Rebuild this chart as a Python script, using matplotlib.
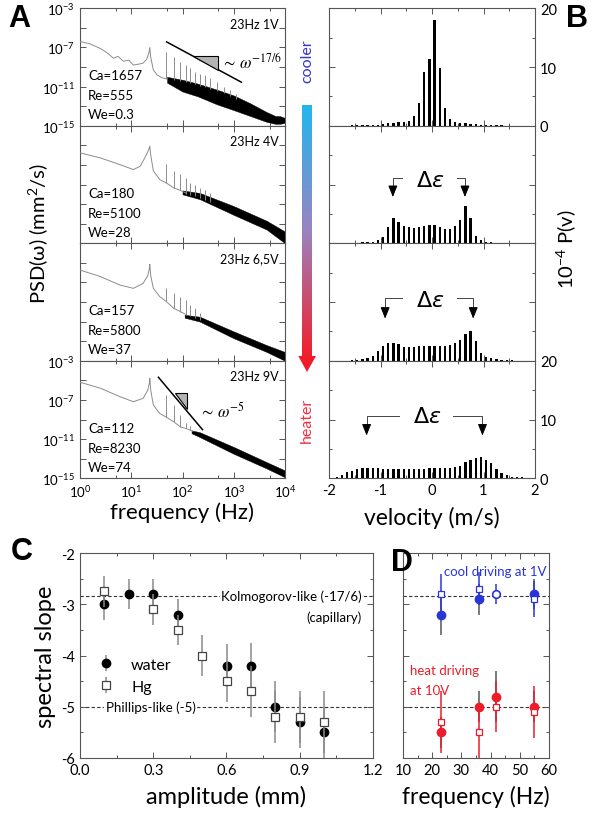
import matplotlib
matplotlib.use('Agg')
import matplotlib.pyplot as plt
import matplotlib.ticker as mt
from matplotlib.patches import Polygon
from matplotlib.colors import LinearSegmentedColormap
import numpy as np

plt.rcParams['font.family'] = ['Lato', 'DejaVu Sans']
plt.rcParams['mathtext.fontset'] = 'custom'
plt.rcParams['mathtext.rm'] = 'Lato'
plt.rcParams['mathtext.it'] = 'Lato:italic'
plt.rcParams['mathtext.bf'] = 'Lato:bold'

# ---------------- panel A : PSD spectra (log10 of PSD)
drive_labels = ['23Hz 1V', '23Hz 4V', '23Hz 6,5V', '23Hz 9V']
ca_vals = ['1657', '180', '157', '112']
re_vals = ['555', '5100', '5800', '8230']
we_vals = ['0.3', '28', '37', '74']

line_f = [
    [1, 1.5, 2.5, 3.5, 4.5, 5.5, 7, 9, 11, 14, 17, 20, 22, 23, 24, 27, 32, 40, 50],
    [1, 2.5, 6, 11, 15, 20, 22, 23, 24, 27, 36, 47, 68, 91, 120],
    [1, 2.5, 6, 11, 17, 21, 22.5, 23, 24, 27, 36, 47, 68, 91, 120],
    [1, 2.5, 6, 11, 17, 21, 22.5, 23, 24, 27, 36, 47, 68, 91, 115, 160],
]
line_p = [
    [-6.4, -6.6, -7.1, -7.6, -8.1, -7.9, -8.4, -8.3, -8.8, -8.7, -8.6, -8.2, -7.6, -7.0, -8.0, -9.3, -9.8, -10.1, -10.2],
    [-5.76, -6.28, -6.96, -7.47, -7.13, -5.9, -5.4, -5.08, -6.0, -7.6, -8.5, -8.8, -9.35, -9.6, -9.9],
    [-5.73, -6.4, -7.26, -7.6, -7.1, -6.3, -5.6, -5.15, -6.3, -7.6, -8.45, -8.9, -9.65, -9.98, -10.3],
    [-5.19, -5.8, -6.66, -7.18, -6.84, -6.0, -5.3, -4.78, -6.0, -7.52, -8.38, -8.72, -9.24, -9.75, -9.9, -10.2],
]
spike_f = [
    [47, 68, 91, 115, 141, 174, 219, 275, 347, 468, 631, 851, 1122],
    [47, 68, 91, 115, 141, 174, 219, 275, 347],
    [47, 68, 91, 115, 141, 174, 219],
    [47, 68, 91, 115, 141],
]
spike_top = [
    [-7.45, -7.95, -8.45, -8.8, -9.1, -9.5, -9.7, -9.85, -10.1, -10.5, -11.0, -11.3, -11.8],
    [-6.9, -7.6, -7.9, -8.3, -8.8, -9.0, -9.35, -9.6, -9.9],
    [-7.6, -8.1, -8.45, -8.8, -9.3, -9.65, -10.15],
    [-6.5, -7.5, -8.56, -9.4, -9.7],
]
spike_base = [
    [-10.2, -10.3, -10.4, -10.5, -10.6, -10.7, -10.9, -11.0, -11.2, -11.4, -11.7, -12.0, -12.3],
    [-8.8, -9.35, -9.6, -9.96, -10.1, -10.2, -10.4, -10.6, -10.8],
    [-8.9, -9.65, -9.98, -10.2, -10.4, -10.6, -10.8],
    [-8.72, -9.24, -9.75, -9.9, -10.1],
]
band_f = [
    [50, 100, 200, 465, 1000, 2100, 4400, 6500, 7900, 10000],
    [100, 219, 1000, 4400, 10000],
    [110, 219, 1000, 4400, 10000],
    [150, 219, 1000, 4400, 10000],
]
band_hi = [
    [-10.0, -10.3, -10.7, -11.3, -11.9, -12.7, -13.6, -14.0, -14.0, -14.2],
    [-9.6, -9.86, -11.2, -12.7, -13.8],
    [-10.3, -10.5, -12.0, -13.4, -14.1],
    [-10.1, -10.3, -11.8, -13.35, -14.2],
]
band_lo = [
    [-10.6, -11.5, -12.0, -12.8, -13.4, -14.0, -14.6, -14.8, -14.8, -14.7],
    [-10.0, -10.5, -12.1, -13.6, -15.0],
    [-10.6, -11.0, -12.7, -14.1, -15.0],
    [-10.4, -10.8, -12.5, -14.0, -14.9],
]

# ---------------- panel B : velocity histograms (10^-4 P(v))
vel = np.linspace(-1.95, 1.95, 40)
hist = [
    [0, 0, 0.05, 0.05, 0.1, 0.1, 0.1, 0.1, 0.15, 0.2,
     0.3, 0.4, 0.5, 0.6, 0.7, 0.9, 1.6, 3.8, 9.2, 11.3,
     18.0, 9.8, 3.1, 1.2, 0.7, 0.5, 0.4, 0.3, 0.25, 0.2,
     0.15, 0.1, 0.1, 0.1, 0.05, 0.05, 0.05, 0, 0, 0],
    [0, 0, 0.05, 0.05, 0.1, 0.1, 0.15, 0.2, 0.3, 0.55,
     1.1, 2.7, 4.3, 3.7, 3.0, 2.7, 2.6, 2.7, 3.0, 3.2,
     3.2, 2.7, 2.5, 2.5, 3.0, 4.0, 6.4, 4.3, 1.3, 0.6,
     0.3, 0.2, 0.1, 0.1, 0.05, 0.05, 0, 0, 0, 0],
    [0, 0, 0.05, 0.05, 0.1, 0.2, 0.3, 0.5, 0.85, 1.75,
     2.5, 3.1, 3.1, 2.8, 2.4, 2.4, 2.4, 2.5, 2.5, 2.6,
     2.6, 2.6, 2.6, 2.7, 3.0, 3.6, 4.5, 5.1, 3.3, 1.4,
     0.7, 0.4, 0.3, 0.2, 0.15, 0.1, 0.05, 0.05, 0, 0],
    [0.1, 0.2, 0.55, 1.0, 1.2, 1.5, 1.75, 1.75, 1.75, 1.7,
     1.6, 1.55, 1.55, 1.55, 1.55, 1.6, 1.6, 1.6, 1.65, 1.7,
     1.7, 1.7, 1.75, 1.75, 1.85, 2.05, 2.7, 3.2, 3.5, 3.6,
     3.2, 2.6, 1.6, 0.9, 0.5, 0.3, 0.2, 0.15, 0.1, 0.1],
]

# ---------------- panel C : spectral slope vs amplitude
amp_w = [0.1, 0.2, 0.3, 0.4, 0.6, 0.7, 0.8, 0.9, 1.0]
slope_w = [-3.0, -2.8, -2.8, -3.2, -4.2, -4.2, -5.0, -5.3, -5.5]
err_w = [0.3, 0.3, 0.3, 0.3, 0.42, 0.45, 0.5, 0.5, 0.5]
amp_hg = [0.1, 0.3, 0.4, 0.5, 0.6, 0.7, 0.8, 0.9, 1.0]
slope_hg = [-2.75, -3.1, -3.5, -4.0, -4.5, -4.7, -5.2, -5.2, -5.3]
err_hg = [0.3, 0.3, 0.3, 0.4, 0.4, 0.5, 0.5, 0.5, 0.6]

# ---------------- panel D : spectral slope vs driving frequency
cool_f = [23, 36, 55]
cool_circ = [-3.2, -2.9, -2.8]
cool_circ_err = [0.4, 0.3, 0.3]
cool_sq = [-2.8, -2.7, -2.9]
cool_sq_err = [0.4, 0.32, 0.35]
cool_open_f = [42]
cool_open = [-2.8]
cool_open_err = [0.2]
heat_f = [23, 36, 42, 55]
heat_circ = [-5.5, -5.0, -4.8, -5.0]
heat_circ_err = [0.3, 0.3, 0.5, 0.3]
heat_sq = [-5.3, -5.5, -5.0, -5.1]
heat_sq_err = [0.6, 0.5, 0.5, 0.5]

W, H = 593, 820
fig = plt.figure(figsize=(W / 100, H / 100), dpi=100)
spine_c = '#555555'
blue = '#2a35d8'
red = '#ec1c2a'


def px_axes(x0, y0, x1, y1):
    return fig.add_axes([x0 / W, 1 - y1 / H, (x1 - x0) / W, (y1 - y0) / H])


def style(ax, lsize=10):
    for s in ax.spines.values():
        s.set_color(spine_c)
        s.set_linewidth(0.8)
    ax.tick_params(which='both', direction='in', top=True, right=True,
                   color=spine_c, labelsize=lsize, width=0.7)
    ax.tick_params(which='major', length=4)
    ax.tick_params(which='minor', length=2.5)


tops = np.linspace(9.3, 479.3, 5)

# ---- A
for i in range(4):
    ax = px_axes(80, tops[i], 285, tops[i + 1])
    ax.set_xscale('log')
    ax.set_yscale('log')
    ax.fill_between(band_f[i], 10.0 ** np.array(band_hi[i]), 10.0 ** np.array(band_lo[i]),
                    color='black', lw=0.3, zorder=2)
    ax.vlines(spike_f[i], 10.0 ** np.array(spike_base[i]), 10.0 ** np.array(spike_top[i]),
              color='#8c8c8c', lw=0.7, zorder=3)
    ax.plot(line_f[i], 10.0 ** np.array(line_p[i]), color='#8c8c8c', lw=0.7, zorder=3)
    ax.set_xlim(1, 1e4)
    ax.set_ylim(1e-15, 1e-3)
    ax.yaxis.set_major_locator(mt.FixedLocator([10.0 ** e for e in range(-15, -2, 2)]))
    ax.yaxis.set_minor_locator(mt.NullLocator())
    if i in (0, 3):
        ax.yaxis.set_major_formatter(mt.FuncFormatter(
            lambda v, p: r'$10^{%d}$' % round(np.log10(v)) if round(np.log10(v)) in (-3, -7, -11, -15) else ''))
    else:
        ax.yaxis.set_major_formatter(mt.NullFormatter())
    ax.xaxis.set_major_locator(mt.LogLocator(base=10, numticks=10))
    ax.xaxis.set_minor_locator(mt.LogLocator(base=10, subs=[5], numticks=10))
    ax.xaxis.set_minor_formatter(mt.NullFormatter())
    if i == 3:
        ax.xaxis.set_major_formatter(mt.LogFormatterMathtext())
    else:
        ax.xaxis.set_major_formatter(mt.NullFormatter())
    style(ax, 9.5)
    ax.text(0.97, 0.87, drive_labels[i], transform=ax.transAxes, ha='right', va='center', fontsize=9)
    ax.text(0.04, 0.43, 'Ca=' + ca_vals[i], transform=ax.transAxes, va='center', fontsize=9.5)
    ax.text(0.04, 0.26, 'Re=' + re_vals[i], transform=ax.transAxes, va='center', fontsize=9.5)
    ax.text(0.04, 0.10, 'We=' + we_vals[i], transform=ax.transAxes, va='center', fontsize=9.5)
    if i == 0:
        ax.plot([10 ** 1.69, 10 ** 3.15], [10 ** -6.43, 10 ** -10.55], color='black', lw=1.1, zorder=4)
        ax.add_patch(Polygon([[10 ** 2.21, 10 ** -7.85], [10 ** 2.70, 10 ** -7.85], [10 ** 2.70, 10 ** -9.28]],
                             closed=True, fc='#b4b4b4', ec='black', lw=0.8, zorder=4))
        ax.text(10 ** 2.76, 10 ** -8.4, r'$\sim\,\omega^{-17/6}$', fontsize=12, va='center',
                math_fontfamily='stix')
    if i == 3:
        ax.plot([10 ** 1.53, 10 ** 2.39], [10 ** -4.68, 10 ** -10.03], color='black', lw=1.1, zorder=4)
        ax.add_patch(Polygon([[10 ** 1.85, 10 ** -6.3], [10 ** 2.09, 10 ** -6.3], [10 ** 2.09, 10 ** -7.9]],
                             closed=True, fc='#b4b4b4', ec='black', lw=0.8, zorder=4))
        ax.text(10 ** 2.32, 10 ** -8.0, r'$\sim\,\omega^{-5}$', fontsize=12, va='center',
                math_fontfamily='stix')

fig.text(38 / W, 1 - 233 / H, 'PSD(ω) (mm$^2$/s)', rotation=90, ha='center', va='center', fontsize=14.5)
fig.text(182 / W, 1 - 513 / H, 'frequency (Hz)', ha='center', va='center', fontsize=16)

# ---- B
brackets = [None,
            (-0.76, -0.59, 0.48, 0.64, 11.1, 7.4, -0.03, 10.8),
            (-0.91, -0.59, 0.48, 0.80, 10.7, 6.7, -0.03, 10.4),
            (-1.27, -0.65, 0.41, 0.98, 10.6, 6.8, -0.10, 10.6)]
for i in range(4):
    ax = px_axes(329, tops[i], 535, tops[i + 1])
    ax.bar(vel, hist[i], width=0.045, color='black', zorder=3)
    ax.set_xlim(-2, 2)
    ax.set_ylim(0, 20)
    ax.xaxis.set_major_locator(mt.MultipleLocator(1))
    ax.xaxis.set_minor_locator(mt.MultipleLocator(0.5))
    ax.yaxis.set_major_locator(mt.MultipleLocator(10))
    ax.yaxis.set_minor_locator(mt.MultipleLocator(5))
    style(ax, 10.5)
    ax.tick_params(labelleft=False, labelright=(i in (0, 3)), labelbottom=(i == 3))
    ax.xaxis.set_major_formatter(mt.FuncFormatter(lambda v, p: '%g' % v))
    if brackets[i]:
        xl, xle, xrs, xr, yh, tip, tx, ty = brackets[i]
        ax.plot([xl, xl, xle], [tip + 1.2, yh, yh], color='#444', lw=0.7)
        ax.plot([xrs, xr, xr], [yh, yh, tip + 1.2], color='#444', lw=0.7)
        for xx in (xl, xr):
            ax.annotate('', xy=(xx, tip), xytext=(xx, tip + 1.5),
                        arrowprops=dict(arrowstyle='-|>,head_length=0.7,head_width=0.28',
                                        color='black', lw=0.7))
        ax.text(tx, ty, r'$\Delta\epsilon$', ha='center', va='center', fontsize=16,
                math_fontfamily='dejavusans')

fig.text(566 / W, 1 - 249 / H, '10$^{-4}$ P(v)', rotation=90, ha='center', va='center', fontsize=14.5)
fig.text(432 / W, 1 - 518 / H, 'velocity (m/s)', ha='center', va='center', fontsize=16.5)

# colour arrow between A and B
cax = fig.add_axes([290 / W, 1 - 380 / H, 34 / W, 280 / H])
cax.axis('off')
cmap = LinearSegmentedColormap.from_list('ch', ['#22b6ee', '#9a84c0', '#f0202c'])
cax.imshow(np.linspace(0, 1, 200).reshape(-1, 1), cmap=cmap, aspect='auto',
           extent=[302, 311.5, 357, 107])
cax.add_patch(Polygon([[298.3, 357], [316, 357], [307, 373]], closed=True, fc='#f01c2c', ec='none'))
cax.set_xlim(290, 324)
cax.set_ylim(380, 100)
fig.text(307 / W, 1 - 61 / H, 'cooler', rotation=90, ha='center', va='center', fontsize=11.5, color='#3535c8')
fig.text(307 / W, 1 - 420 / H, 'heater', rotation=90, ha='center', va='center', fontsize=11.5, color='#f03040')

# panel letters
for lab, x, y in [('A', 19, 19), ('B', 577, 19), ('C', 22, 552), ('D', 402, 563)]:
    fig.text(x / W, 1 - y / H, lab, ha='center', va='center', fontsize=22, fontweight='bold',
             family='Liberation Sans')

# ---- C
ax = px_axes(80, 554, 373, 759)
ax.axhline(-17 / 6, ls=(0, (3, 2)), color='#333', lw=0.8, zorder=1)
ax.axhline(-5, ls=(0, (3, 2)), color='#333', lw=0.8, zorder=1)
ax.errorbar(amp_w, slope_w, yerr=err_w, fmt='o', color='black', ecolor='#8a8a8a', elinewidth=1.1,
            ms=6, capsize=0, zorder=3, label='water')
ax.errorbar(amp_hg, slope_hg, yerr=err_hg, fmt='s', mfc='white', mec='#444', ecolor='#8a8a8a',
            elinewidth=1.1, ms=6, mew=0.9, capsize=0, zorder=4, label='Hg')
ax.set_xlim(0, 1.2)
ax.set_ylim(-6, -2)
ax.xaxis.set_major_locator(mt.MultipleLocator(0.3))
ax.xaxis.set_minor_locator(mt.MultipleLocator(0.15))
ax.yaxis.set_major_locator(mt.MultipleLocator(1))
ax.yaxis.set_minor_locator(mt.MultipleLocator(0.5))
ax.xaxis.set_major_formatter(mt.FuncFormatter(lambda v, p: '%.1f' % v))
ax.yaxis.set_major_formatter(mt.FuncFormatter(lambda v, p: '%d' % round(v)))
style(ax, 10.5)
box = dict(fc='white', ec='none', pad=1)
ax.text(1.155, -17 / 6, 'Kolmogorov-like (-17/6)', ha='right', va='center', fontsize=9.5, bbox=box, zorder=2)
ax.text(1.155, -3.25, '(capillary)', ha='right', va='center', fontsize=9.5)
ax.text(0.29, -5, 'Phillips-like (-5)', ha='center', va='center', fontsize=9.5, bbox=box, zorder=2)
leg = ax.legend(loc='upper left', bbox_to_anchor=(0.0, 0.56), frameon=False, fontsize=11.5,
                handletextpad=0.8, labelspacing=0.5, handlelength=1.5)
ax.set_ylabel('spectral slope', fontsize=17, labelpad=4)
ax.set_xlabel('amplitude (mm)', fontsize=17, labelpad=6)

# ---- D
ax = px_axes(403, 554, 549, 759)
ax.axhline(-17 / 6, ls=(0, (3, 2)), color='#333', lw=0.8, zorder=1)
ax.axhline(-5, ls=(0, (3, 2)), color='#333', lw=0.8, zorder=1)
ax.errorbar(cool_f, cool_circ, yerr=cool_circ_err, fmt='none', ecolor='#555', elinewidth=1.1, zorder=2)
ax.errorbar(cool_f, cool_sq, yerr=cool_sq_err, fmt='none', ecolor=blue, elinewidth=1.1, zorder=2)
ax.errorbar(cool_open_f, cool_open, yerr=cool_open_err, fmt='none', ecolor=blue, elinewidth=1.1, zorder=2)
ax.errorbar(heat_f, heat_circ, yerr=heat_circ_err, fmt='none', ecolor='#555', elinewidth=1.1, zorder=2)
ax.errorbar(heat_f, heat_sq, yerr=heat_sq_err, fmt='none', ecolor=red, elinewidth=1.1, zorder=2)
ax.plot(cool_f, cool_circ, 'o', color=blue, ms=6, zorder=4)
ax.plot(cool_f, cool_sq, 's', mfc='white', mec=blue, ms=4.5, mew=0.9, zorder=4)
ax.plot(cool_open_f, cool_open, 'o', mfc='white', mec=blue, ms=5.5, mew=1.2, zorder=4)
ax.plot(heat_f, heat_circ, 'o', color=red, ms=6, zorder=4)
ax.plot(heat_f, heat_sq, 's', mfc='white', mec=red, ms=4.5, mew=0.9, zorder=4)
ax.set_xlim(10, 60)
ax.set_ylim(-6, -2)
ax.xaxis.set_major_locator(mt.MultipleLocator(10))
ax.xaxis.set_minor_locator(mt.MultipleLocator(5))
ax.yaxis.set_major_locator(mt.MultipleLocator(1))
ax.yaxis.set_minor_locator(mt.MultipleLocator(0.5))
ax.yaxis.set_major_formatter(mt.NullFormatter())
style(ax, 10.5)
ax.text(24, -2.35, 'cool driving at 1V', color=blue, fontsize=9.5, va='center')
ax.text(12.4, -4.28, 'heat driving', color=red, fontsize=9.5, va='center')
ax.text(12.4, -4.67, 'at 10V', color=red, fontsize=9.5, va='center')
ax.set_xlabel('frequency (Hz)', fontsize=16.5, labelpad=6)

fig.savefig('out.png', dpi=100)
